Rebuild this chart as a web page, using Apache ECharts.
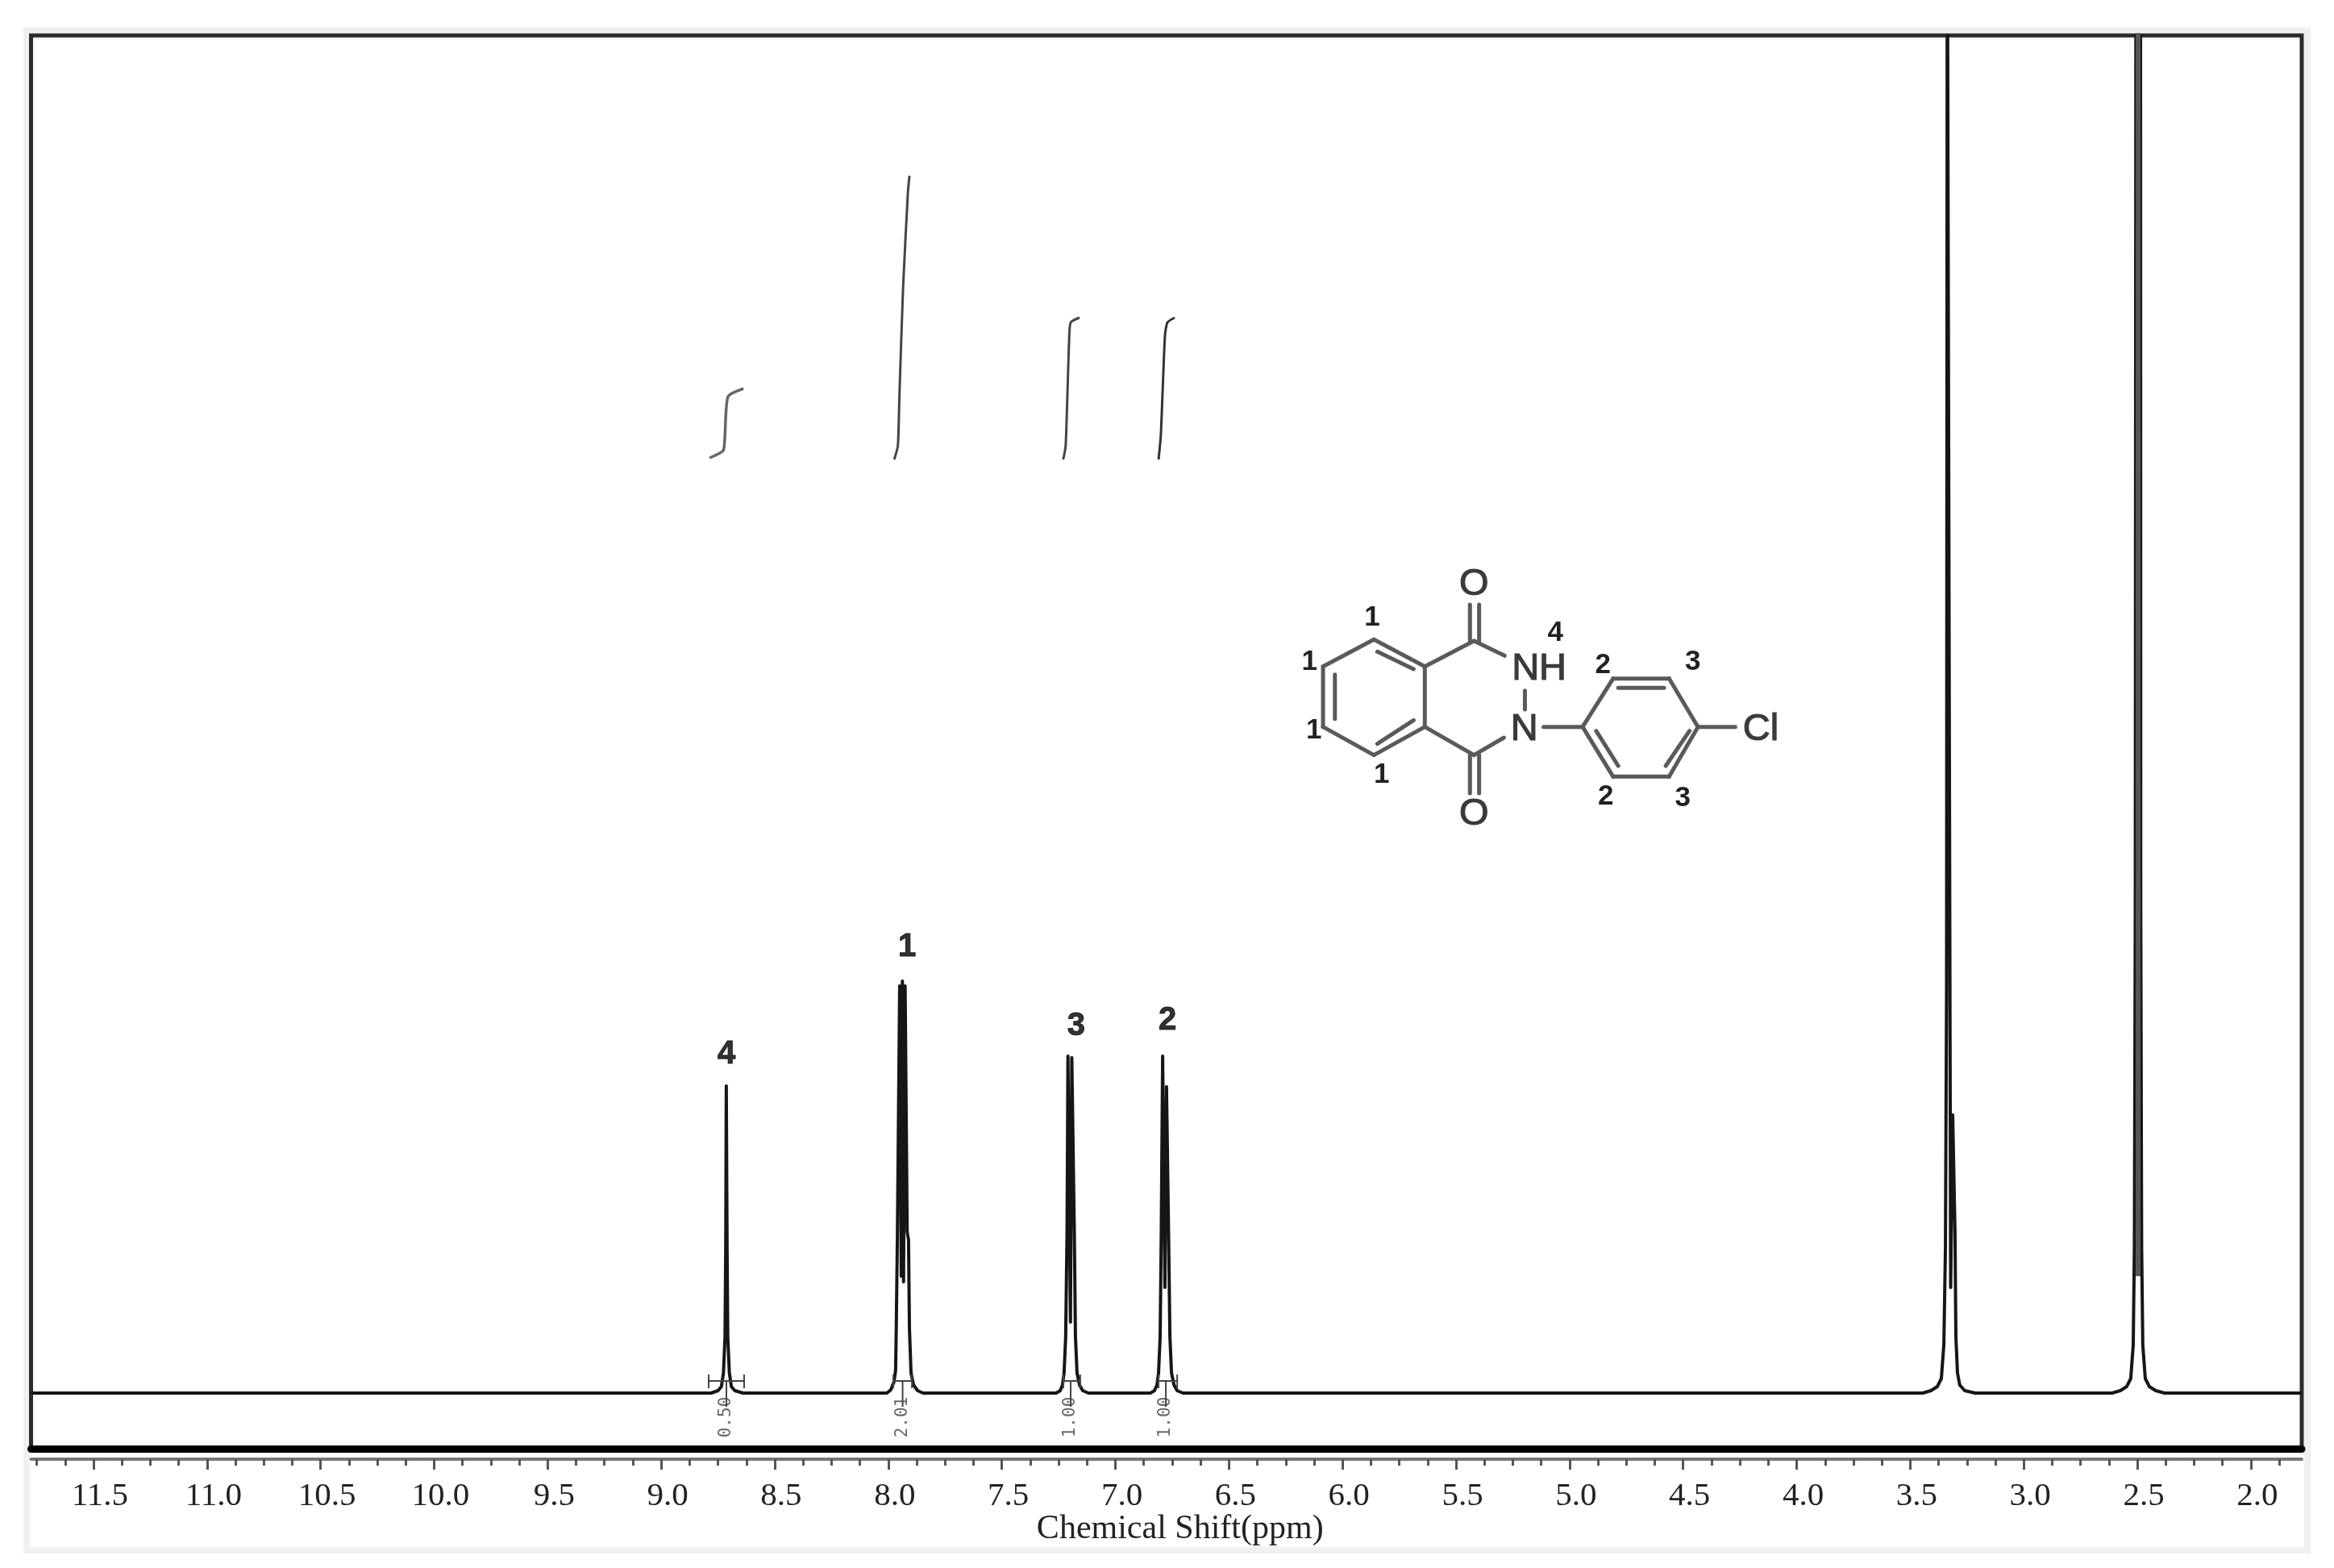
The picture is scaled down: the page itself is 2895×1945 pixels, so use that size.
<!DOCTYPE html>
<html><head><meta charset="utf-8">
<style>html,body{margin:0;padding:0;background:#fff}#c{width:2895px;height:1945px}</style>
<script src="https://cdn.jsdelivr.net/npm/echarts@6/dist/echarts.min.js"></script>
</head><body><div id="c"></div>
<script>
const majorTicks = [11.5,11,10.5,10,9.5,9,8.5,8,7.5,7,6.5,6,5.5,5,4.5,4,3.5,3,2.5,2];
const minorTicks = [11.75,11.625,11.375,11.25,11.125,10.875,10.75,10.625,10.375,10.25,10.125,9.875,9.75,9.625,9.375,9.25,9.125,8.875,8.75,8.625,8.375,8.25,8.125,7.875,7.75,7.625,7.375,7.25,7.125,6.875,6.75,6.625,6.375,6.25,6.125,5.875,5.75,5.625,5.375,5.25,5.125,4.875,4.75,4.625,4.375,4.25,4.125,3.875,3.75,3.625,3.375,3.25,3.125,2.875,2.75,2.625,2.375,2.25,2.125,1.875];

const peakNH = [[8.78,0],[8.75,3],[8.735,8],[8.726,25],[8.719,70],[8.716,180],[8.7135,381],[8.7125,381],[8.71,180],[8.707,70],[8.7,25],[8.691,8],[8.676,3],[8.64,0]];
const peakH1 = [[8.006,0],[7.989,4],[7.975,14],[7.968,28],[7.965,80],[7.96,195],[7.95,505],[7.943,145],[7.938,511],[7.933,138],[7.926,505],[7.917,200],[7.911,190],[7.907,80],[7.9,25],[7.889,10],[7.871,3],[7.847,0]];
const peakH3 = [[7.261,0],[7.243,3],[7.233,10],[7.226,25],[7.219,70],[7.213,200],[7.209,418],[7.206,418],[7.198,88],[7.192,416],[7.188,416],[7.181,200],[7.176,70],[7.169,25],[7.158,10],[7.144,3],[7.119,0]];
const peakH2 = [[6.846,0],[6.828,3],[6.817,10],[6.81,25],[6.803,70],[6.798,200],[6.792,418],[6.789,418],[6.782,131],[6.775,380],[6.771,380],[6.766,200],[6.76,70],[6.753,25],[6.742,10],[6.728,3],[6.703,0]];
const peakWater = [[3.445,0],[3.409,3],[3.381,8],[3.363,18],[3.352,60],[3.345,180],[3.34,500],[3.337,1900],[3.331,1900],[3.322,131],[3.313,345],[3.306,345],[3.303,200],[3.299,70],[3.292,25],[3.282,10],[3.26,3],[3.214,0]];
const peakDMSO = [[2.611,0],[2.575,3],[2.547,8],[2.529,18],[2.518,60],[2.513,180],[2.509,600],[2.506,1900],[2.486,1900],[2.485,600],[2.481,180],[2.476,60],[2.465,18],[2.447,8],[2.419,3],[2.38,0]];
const dmsoCore = [[2.4965,145],[2.4965,1900]];
const axisEnds = [11.775,1.776];

const integralNH = [[8.787,1160],[8.727,1169],[8.72,1185],[8.706,1236],[8.638,1246]];
const integralH1 = [[7.974,1158],[7.958,1175],[7.951,1238],[7.935,1371],[7.914,1488],[7.907,1510]];
const integralH3 = [[7.23,1158],[7.219,1175],[7.204,1305],[7.197,1328],[7.158,1334]];
const integralH2 = [[6.81,1158],[6.8,1188],[6.782,1311],[6.771,1328],[6.739,1334]];

const bracketRanges = [[8.791,8.635,8.713],[7.978,7.896,7.937],[7.229,7.155,7.197],[6.81,6.728,6.778]];
const integralValues = ['0.50','2.01','1.00','1.00'];
const integralPpm = [8.713,7.937,7.197,6.778];
const peakNames = ['4','1','3','2'];
const peakNamePpm = [8.713,7.917,7.173,6.771];
const peakNameHeight = [420,553,455,462];

const spectrum = [[axisEnds[0],0],...peakNH,...peakH1,...peakH3,...peakH2,...peakWater,...peakDMSO,[axisEnds[1],0]];
const brackets = [];
bracketRanges.forEach(r=>{
  brackets.push([r[0],6],[r[0],23],null,[r[1],6],[r[1],23],null,[r[0],15],[r[1],15],null,[r[2],15],[r[2],-17],null);
});

/* molecule sketch: coordinates of the inset drawing */
const mx=v=>1580+v/2.376, my=v=>680+v/3;
const bonds=[
 [295,340,445,440],[445,440,445,665],[445,665,295,770],[295,770,145,665],[145,665,145,440],[145,440,295,340],
 [305,385,412,450],[180,470,180,635],[305,728,412,640],
 [445,440,590,345],[590,345,680,400],[445,665,590,770],[590,770,678,705],
 [578,345,578,210],[605,345,605,210],[578,770,578,912],[605,770,605,912],
 [740,530,740,600],[795,665,910,665],
 [910,665,1000,485],[1000,485,1165,485],[1165,485,1250,665],[1250,665,1165,850],[1165,850,1000,850],[1000,850,910,665],
 [1015,520,1150,520],[950,680,1015,810],[1225,680,1155,810],[1250,665,1360,665]];
const atoms=[['O',590,135],['O',590,990],['NH',782,450],['N',738,675],['Cl',1435,675]];
const atomNums=[['1',290,258],['1',105,425],['1',118,678],['1',318,845],['4',830,315],['2',970,435],['3',1235,425],['2',978,925],['3',1205,930]];
const graphics=[{type:'rect',silent:true,z:-1,shape:{x:33,y:38,width:2829,height:1885},style:{fill:'none',stroke:'#f0f0f0',lineWidth:8}}];
bonds.forEach(b=>graphics.push({type:'line',silent:true,shape:{x1:mx(b[0]),y1:my(b[1]),x2:mx(b[2]),y2:my(b[3])},style:{stroke:'#5a5a5a',lineWidth:5,lineCap:'round'}}));
atoms.forEach(a=>graphics.push({type:'text',silent:true,x:mx(a[1]),y:my(a[2]),style:{text:a[0],font:'47px "Liberation Sans"',fill:'#3a3a3a',stroke:'#3a3a3a',lineWidth:1.2,textAlign:'center',textVerticalAlign:'middle'}}));
atomNums.forEach(a=>graphics.push({type:'text',silent:true,x:mx(a[1]),y:my(a[2]),style:{text:a[0],font:'bold 35px "Liberation Sans"',fill:'#222',textAlign:'center',textVerticalAlign:'middle'}}));

const line=(name,data,width,color,extra)=>Object.assign({name,type:'line',data,showSymbol:false,symbol:'none',silent:true,clip:true,lineStyle:{width,color,join:'round'}},extra||{});
const labelSeries=(name,data,label)=>({name,type:'scatter',data,symbolSize:1,itemStyle:{color:'transparent'},silent:true,label:Object.assign({show:true,position:'inside',formatter:p=>p.data.t},label)});

const base={type:'value',inverse:true,min:axisEnds[1],max:axisEnds[0],position:'bottom',splitLine:{show:false}};
const chart=echarts.init(document.getElementById('c'),null,{renderer:'canvas'});
chart.setOption({
 animation:false,
 backgroundColor:'#fff',
 grid:{left:38.5,right:40,top:44,bottom:147.5,show:true,borderColor:'#2b2b2b',borderWidth:5,containLabel:false},
 xAxis:[
  Object.assign({},base,{offset:12.5,
    axisLine:{show:true,onZero:false,lineStyle:{color:'#777',width:4}},
    axisTick:{show:true,customValues:majorTicks,length:13,lineStyle:{color:'#555',width:3}},
    minorTick:{show:false},
    axisLabel:{show:true,customValues:majorTicks,formatter:v=>v.toFixed(1),fontFamily:'Liberation Serif',fontSize:41,color:'#222',margin:26,padding:[0,0,0,16]},
    name:'Chemical Shift(ppm)',nameLocation:'middle',nameGap:66,nameMoveOverlap:false,
    nameTextStyle:{fontFamily:'Liberation Serif',fontSize:42,color:'#222',padding:[0,0,0,34]}}),
  Object.assign({},base,{offset:12.5,
    axisLine:{show:false,onZero:false},
    axisTick:{show:true,customValues:minorTicks,length:8,lineStyle:{color:'#555',width:3}},
    axisLabel:{show:false}}),
  Object.assign({},base,{offset:0,
    axisLine:{show:true,onZero:false,lineStyle:{color:'#000',width:9}},
    axisTick:{show:false},axisLabel:{show:false}})
 ],
 yAxis:{type:'value',show:false,min:-69.5,max:1684,splitLine:{show:false}},
 graphic:graphics,
 series:[
  line('spectrum',spectrum,4,'#161616'),
  line('DMSO core',dmsoCore,6,'#555'),
  line('integral NH',integralNH,3.5,'#666',{smooth:0.2}),
  line('integral H1',integralH1,3,'#444',{smooth:0.2}),
  line('integral H3',integralH3,3,'#444',{smooth:0.2}),
  line('integral H2',integralH2,3,'#333',{smooth:0.2}),
  line('integration ranges',brackets,2,'#444',{connectNulls:false}),
  labelSeries('integral values',integralPpm.map((p,i)=>({value:[p,-30],t:integralValues[i]})),{rotate:90,fontFamily:'DejaVu Sans Mono',fontSize:21,color:'#444'}),
  labelSeries('peak labels',peakNamePpm.map((p,i)=>({value:[p,peakNameHeight[i]],t:peakNames[i]})),{fontFamily:'Liberation Sans',fontWeight:'bold',fontSize:40,color:'#000',textBorderColor:'#000',textBorderWidth:1})
 ]
});
</script></body></html>
